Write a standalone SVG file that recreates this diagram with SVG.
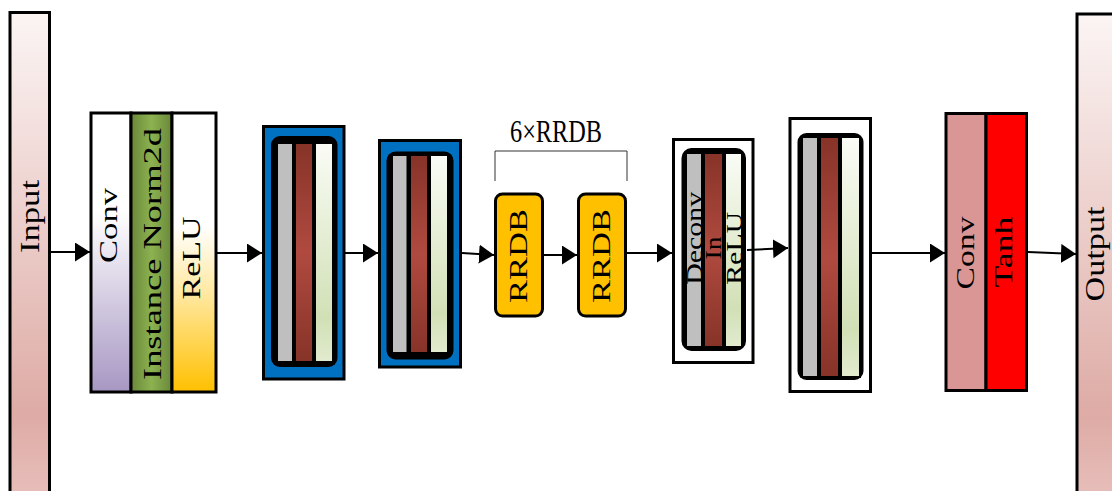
<svg xmlns="http://www.w3.org/2000/svg" width="1112" height="491" viewBox="0 0 1112 491">
  <defs>
    <linearGradient id="gPink" x1="0" y1="0" x2="0" y2="1">
      <stop offset="0" stop-color="#fbf5f4"/>
      <stop offset="0.82" stop-color="#deaba5"/>
      <stop offset="1" stop-color="#e8c0bc"/>
    </linearGradient>
    <linearGradient id="gLavender" x1="0" y1="0" x2="0" y2="1">
      <stop offset="0" stop-color="#ffffff"/>
      <stop offset="0.35" stop-color="#ffffff"/>
      <stop offset="1" stop-color="#a797c3"/>
    </linearGradient>
    <linearGradient id="gNorm" x1="0" y1="0" x2="1" y2="0">
      <stop offset="0" stop-color="#6a883a"/>
      <stop offset="0.5" stop-color="#8cb250"/>
      <stop offset="1" stop-color="#6a883a"/>
    </linearGradient>
    <linearGradient id="gYellow" x1="0" y1="0" x2="0" y2="1">
      <stop offset="0" stop-color="#ffffff"/>
      <stop offset="0.4" stop-color="#ffffff"/>
      <stop offset="0.65" stop-color="#ffe8a0"/>
      <stop offset="1" stop-color="#ffc000"/>
    </linearGradient>
    <linearGradient id="gRed" x1="0" y1="0" x2="0" y2="1">
      <stop offset="0" stop-color="#873328"/>
      <stop offset="0.5" stop-color="#b04a40"/>
      <stop offset="1" stop-color="#873328"/>
    </linearGradient>
    <linearGradient id="gMint" x1="0" y1="0" x2="0" y2="1">
      <stop offset="0" stop-color="#fafcf6"/>
      <stop offset="0.8" stop-color="#d2e0b6"/>
      <stop offset="1" stop-color="#e2ebcf"/>
    </linearGradient>
    <marker id="head" markerUnits="userSpaceOnUse" markerWidth="16" markerHeight="20" refX="15" refY="9.5" orient="auto">
      <path d="M0,0 L15,9.5 L0,19 Z" fill="#000"/>
    </marker>
  </defs>
  <style>
    .box { stroke: #000; stroke-width: 3; }
    .col { stroke: #000; stroke-width: 2; }
    .gray { fill: #bfbfbf; }
    .red { fill: url(#gRed); }
    .mint { fill: url(#gMint); }
    .frame { fill: #000; }
    .blue { fill: #0070c0; }
    .lbl { font-family: "Liberation Serif", "Times New Roman", serif; fill: #000; text-anchor: middle; }
    .link { fill: none; stroke: #000; stroke-width: 2; marker-end: url(#head); }
  </style>

  <rect width="1112" height="491" fill="#fff"/>

  <!-- input tensor -->
  <g id="input">
    <rect class="box" x="10" y="12.5" width="39.5" height="490" fill="url(#gPink)"/>
    <text class="lbl" font-size="27" textLength="73" lengthAdjust="spacingAndGlyphs" transform="translate(39 216.5) rotate(-90)">Input</text>
  </g>

  <!-- conv / instance norm / relu stem -->
  <g id="stem">
    <rect class="box" x="91" y="113" width="40" height="279" fill="url(#gLavender)"/>
    <rect class="box" x="131" y="113" width="41" height="279" fill="url(#gNorm)"/>
    <rect class="box" x="172" y="113" width="44" height="279" fill="url(#gYellow)"/>
    <text class="lbl" font-size="25" textLength="75" lengthAdjust="spacingAndGlyphs" transform="translate(117 225.5) rotate(-90)">Conv</text>
    <text class="lbl" font-size="25" textLength="252" lengthAdjust="spacingAndGlyphs" fill="#1a1a1a" transform="translate(161 254) rotate(-90)">Instance Norm2d</text>
    <text class="lbl" font-size="25" textLength="83" lengthAdjust="spacingAndGlyphs" transform="translate(200 258) rotate(-90)">ReLU</text>
  </g>

  <!-- downsampling block 1 -->
  <g id="down1">
    <rect class="box blue" x="263.5" y="126.5" width="80.5" height="252.5"/>
    <rect class="frame" x="271" y="136" width="66.5" height="231" rx="9"/>
    <rect class="col gray" x="277" y="143" width="16" height="219"/>
    <rect class="col red" x="295" y="143" width="18" height="219"/>
    <rect class="col mint" x="315" y="143" width="18" height="219"/>
  </g>

  <!-- downsampling block 2 -->
  <g id="down2">
    <rect class="box blue" x="379.5" y="140.5" width="81" height="226.5"/>
    <rect class="frame" x="386.5" y="151.5" width="67" height="208" rx="9"/>
    <rect class="col gray" x="392" y="155" width="15.5" height="198"/>
    <rect class="col red" x="410" y="155" width="18" height="198"/>
    <rect class="col mint" x="430" y="155" width="18" height="198"/>
  </g>

  <!-- residual-in-residual dense blocks -->
  <g id="rrdb-group">
    <path d="M495 181 V151 H627 V181" fill="none" stroke="#333" stroke-width="1"/>
    <text class="lbl" x="556" y="142" font-size="31" textLength="92" lengthAdjust="spacingAndGlyphs">6×RRDB</text>
  </g>
  <g id="rrdb1">
    <rect class="box" x="495.5" y="194" width="47" height="122" rx="7" fill="#ffc000"/>
    <text class="lbl" font-size="25" textLength="94" lengthAdjust="spacingAndGlyphs" transform="translate(527 256) rotate(-90)">RRDB</text>
  </g>
  <g id="rrdb2">
    <rect class="box" x="578.5" y="194" width="47" height="122" rx="7" fill="#ffc000"/>
    <text class="lbl" font-size="25" textLength="94" lengthAdjust="spacingAndGlyphs" transform="translate(609.5 256) rotate(-90)">RRDB</text>
  </g>

  <!-- upsampling block -->
  <g id="up1">
    <rect class="box" x="673.5" y="139.5" width="79.5" height="223" fill="#fff"/>
    <rect class="frame" x="681.5" y="148" width="64.5" height="203" rx="10"/>
    <rect class="col gray" x="686" y="153" width="16" height="194"/>
    <rect class="col red" x="704" y="153" width="19" height="194"/>
    <rect class="col mint" x="725" y="153" width="17" height="194"/>
    <text class="lbl" font-size="23" textLength="93" lengthAdjust="spacingAndGlyphs" transform="translate(701.5 238.3) rotate(-90)">Deconv</text>
    <text class="lbl" font-size="23" textLength="23" lengthAdjust="spacingAndGlyphs" transform="translate(720.5 248) rotate(-90)">In</text>
    <text class="lbl" font-size="23" textLength="73" lengthAdjust="spacingAndGlyphs" transform="translate(741.5 248.3) rotate(-90)">ReLU</text>
  </g>

  <!-- upsampling block 2 -->
  <g id="up2">
    <rect class="box" x="790" y="118.5" width="80.5" height="273" fill="#fff"/>
    <rect class="frame" x="797.5" y="133" width="66" height="247" rx="9"/>
    <rect class="col gray" x="802" y="137" width="16" height="240"/>
    <rect class="col red" x="820" y="137" width="19" height="240"/>
    <rect class="col mint" x="841" y="137" width="19" height="240"/>
  </g>

  <!-- output head -->
  <g id="head-block">
    <rect class="box" x="946" y="113.5" width="40" height="277" fill="#d99694"/>
    <rect class="box" x="986" y="113.5" width="40.5" height="277" fill="#ff0000"/>
    <text class="lbl" font-size="25" textLength="73" lengthAdjust="spacingAndGlyphs" transform="translate(973.5 253) rotate(-90)">Conv</text>
    <text class="lbl" font-size="25" textLength="71" lengthAdjust="spacingAndGlyphs" transform="translate(1011.5 252) rotate(-90)">Tanh</text>
  </g>

  <!-- output tensor -->
  <g id="output">
    <rect class="box" x="1077" y="14" width="40" height="490" fill="url(#gPink)"/>
    <text class="lbl" font-size="27" textLength="95" lengthAdjust="spacingAndGlyphs" transform="translate(1104 254) rotate(-90)">Output</text>
  </g>

  <!-- connectors -->
  <g id="connectors">
    <line class="link" x1="50" y1="252" x2="90" y2="252"/>
    <line class="link" x1="217" y1="253" x2="262" y2="253"/>
    <line class="link" x1="345" y1="253" x2="378" y2="253"/>
    <line class="link" x1="462" y1="253" x2="494" y2="255"/>
    <line class="link" x1="544" y1="255" x2="577" y2="255"/>
    <line class="link" x1="627" y1="253" x2="672" y2="253"/>
    <line class="link" x1="747" y1="250" x2="788" y2="248"/>
    <line class="link" x1="872" y1="253" x2="945" y2="253"/>
    <line class="link" x1="1028" y1="252" x2="1076" y2="254"/>
  </g>
</svg>
